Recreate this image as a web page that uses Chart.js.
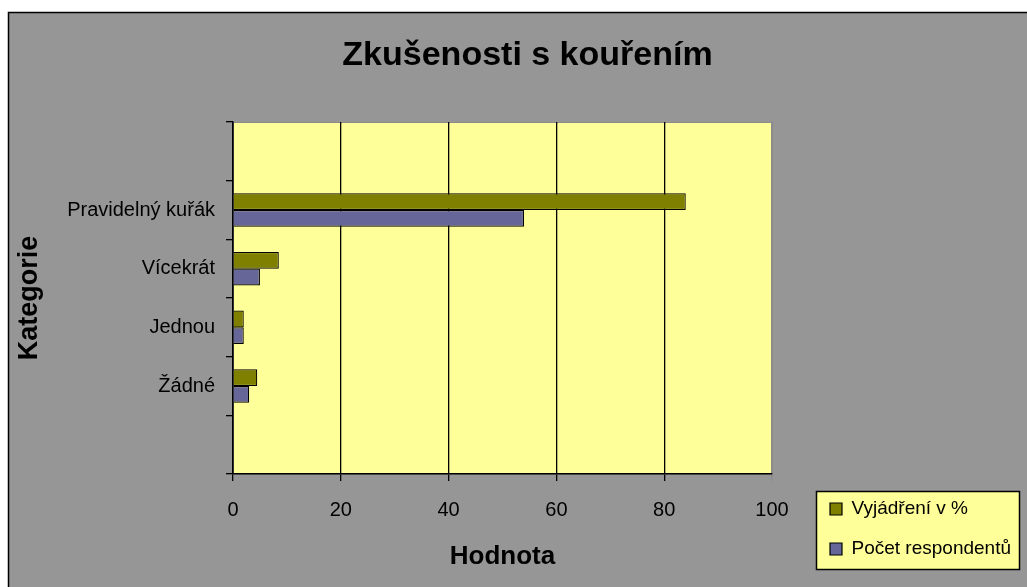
<!DOCTYPE html>
<html>
<head>
<meta charset="utf-8">
<script src="https://cdn.jsdelivr.net/npm/chart.js@4/dist/chart.umd.min.js"></script>
<style>
  body { margin: 0; background: #fff; }
  canvas { display: block; }
</style>
</head>
<body>
<canvas id="chart" width="1027" height="587"></canvas>
<script>
// categories top to bottom, empty slots at both ends like the original sheet
const categories = ['', 'Pravidelný kuřák', 'Vícekrát', 'Jednou', 'Žádné', ''];
const percentValues = [null, 84, 8.5, 2, 4.5, null];
const respondentValues = [null, 54, 5, 2, 3, null];
const seriesNames = ['Vyjádření v %', 'Počet respondentů'];
const xMin = 0;
const xMax = 100;
const xStep = 20;

const FONT = "'Liberation Sans', Arial, sans-serif";
Chart.defaults.font.family = FONT;
Chart.defaults.color = '#000';

// grey sheet, yellow plot area and legend box, plus placing title/legend
const backdrop = {
  id: 'backdrop',
  afterLayout(chart) {
    const t = chart.titleBlock;
    if (t) {
      t.left = 28; t.right = chart.width; t.width = t.right - t.left;
    }
    const lg = chart.legend;
    if (lg) {
      lg.left = 809; lg.top = 478.5;
      lg.right = chart.width; lg.bottom = chart.height;
      lg.width = lg.right - lg.left; lg.height = lg.bottom - lg.top;
    }
  },
  beforeDraw(chart) {
    const ctx = chart.ctx;
    const a = chart.chartArea;
    ctx.save();
    ctx.fillStyle = '#969696';
    ctx.fillRect(8, 12, chart.width - 8, chart.height - 12);
    ctx.strokeStyle = '#000';
    ctx.lineWidth = 1.5;
    ctx.beginPath();
    ctx.moveTo(8.5, chart.height);
    ctx.lineTo(8.5, 12.5);
    ctx.lineTo(chart.width, 12.5);
    ctx.stroke();

    ctx.fillStyle = '#FFFF99';
    ctx.fillRect(a.left, a.top, a.right - a.left, a.bottom - a.top);
    ctx.strokeStyle = '#8c8c8c';
    ctx.lineWidth = 1;
    ctx.strokeRect(a.left + 0.5, a.top + 0.5, a.right - a.left, a.bottom - a.top);

    ctx.fillStyle = '#FFFF99';
    ctx.fillRect(816, 491, 203, 78);
    ctx.strokeStyle = '#000';
    ctx.lineWidth = 1.5;
    ctx.strokeRect(816.5, 491.5, 203, 78);
    ctx.restore();
  }
};

new Chart(document.getElementById('chart'), {
  type: 'bar',
  data: {
    labels: categories,
    datasets: [
      {
        label: seriesNames[0],
        data: percentValues,
        backgroundColor: '#808000',
        borderColor: '#000',
        borderWidth: 1.2,
        categoryPercentage: 0.57,
        barPercentage: 1
      },
      {
        label: seriesNames[1],
        data: respondentValues,
        backgroundColor: '#666699',
        borderColor: '#000',
        borderWidth: 1.2,
        categoryPercentage: 0.57,
        barPercentage: 1
      }
    ]
  },
  options: {
    indexAxis: 'y',
    responsive: false,
    animation: false,
    layout: { padding: { left: 8, top: 12, right: 255, bottom: 0 } },
    plugins: {
      title: {
        display: true,
        text: 'Zkušenosti s kouřením',
        color: '#000',
        font: { size: 34, weight: 'bold' },
        padding: { top: 23.6, bottom: 45.6 }
      },
      legend: {
        display: true,
        position: 'chartArea',
        align: 'start',
        labels: {
          color: '#000',
          font: { size: 19 },
          boxWidth: 12,
          boxHeight: 12,
          padding: 21
        }
      },
      tooltip: { enabled: false }
    },
    scales: {
      x: {
        min: xMin,
        max: xMax,
        ticks: { stepSize: xStep, font: { size: 20 }, color: '#000', padding: 17 },
        grid: {
          color: (c) => (c.tick && c.tick.value === xMax ? '#8c8c8c' : '#000'),
          lineWidth: 1.3,
          tickLength: 7
        },
        border: { color: '#000', width: 1.5 },
        title: {
          display: true,
          text: 'Hodnota',
          color: '#000',
          font: { size: 26, weight: 'bold' },
          padding: { top: 0, bottom: 15 }
        },
        afterFit(scale) { scale.height = 113; }
      },
      y: {
        ticks: { font: { size: 20 }, color: '#000', padding: 11 },
        grid: { drawOnChartArea: false, color: '#000', lineWidth: 1.3, tickLength: 7 },
        border: { color: '#000', width: 1.5 },
        title: {
          display: true,
          text: 'Kategorie',
          color: '#000',
          font: { size: 27, weight: 'bold' },
          padding: { top: 5, bottom: 0 }
        },
        afterFit(scale) { scale.width = 225; }
      }
    }
  },
  plugins: [backdrop]
});
</script>
</body>
</html>
